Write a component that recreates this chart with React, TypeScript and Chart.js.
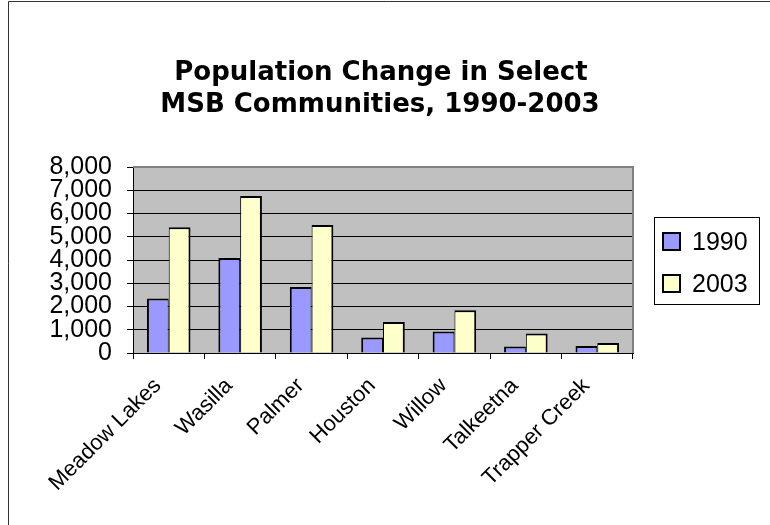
import React, { useEffect, useRef } from "react";
import { Chart, registerables } from "chart.js";

Chart.register(...registerables);

const communities = [
  "Meadow Lakes",
  "Wasilla",
  "Palmer",
  "Houston",
  "Willow",
  "Talkeetna",
  "Trapper Creek",
];
const pop1990 = [2340, 4085, 2840, 670, 925, 280, 300];
const pop2003 = [5410, 6755, 5510, 1330, 1840, 840, 430];
const seriesNames = ["1990", "2003"];
const seriesColors = ["#9999FF", "#FFFFCC"];
const yTicks = [0, 1000, 2000, 3000, 4000, 5000, 6000, 7000, 8000];
const titleLines = ["Population Change in Select", "MSB Communities, 1990-2003"];

const W = 770;
const H = 525;
const FONT = '"Liberation Sans", Arial, sans-serif';
const TITLE_FONT = '"DejaVu Sans", Verdana, sans-serif';

// White page, outer chart frame and the grey plot background
const backdropPlugin = {
  id: "backdrop",
  beforeDraw(chart: any) {
    const { ctx, chartArea } = chart;
    ctx.save();
    ctx.fillStyle = "#ffffff";
    ctx.fillRect(0, 0, W, H);
    ctx.strokeStyle = "#333333";
    ctx.lineWidth = 1;
    ctx.beginPath();
    ctx.moveTo(8.5, H);
    ctx.lineTo(8.5, 1.5);
    ctx.lineTo(W, 1.5);
    ctx.stroke();
    ctx.fillStyle = "#C0C0C0";
    ctx.fillRect(
      chartArea.left,
      chartArea.top,
      chartArea.right - chartArea.left,
      chartArea.bottom - chartArea.top
    );
    ctx.restore();
  },
  afterDraw(chart: any) {
    const { ctx, chartArea } = chart;
    ctx.save();
    ctx.strokeStyle = "#808080";
    ctx.lineWidth = 2;
    ctx.beginPath();
    ctx.moveTo(chartArea.left, chartArea.top);
    ctx.lineTo(chartArea.right, chartArea.top);
    ctx.lineTo(chartArea.right, chartArea.bottom);
    ctx.stroke();
    ctx.restore();
  },
};

// Two-line bold heading above the plot
const headingPlugin = {
  id: "heading",
  afterDraw(chart: any) {
    const { ctx } = chart;
    ctx.save();
    ctx.fillStyle = "#000000";
    ctx.font = `bold 26px ${TITLE_FONT}`;
    ctx.textAlign = "center";
    ctx.textBaseline = "alphabetic";
    ctx.fillText(titleLines[0], 381, 80);
    ctx.fillText(titleLines[1], 380, 112);
    ctx.restore();
  },
};

// Boxed legend to the right of the plot
const boxLegendPlugin = {
  id: "boxLegend",
  afterDraw(chart: any) {
    const { ctx } = chart;
    const x0 = 654.5;
    const y0 = 217.5;
    const bw = 105;
    const bh = 87;
    ctx.save();
    ctx.fillStyle = "#ffffff";
    ctx.fillRect(x0, y0, bw, bh);
    ctx.strokeStyle = "#000000";
    ctx.lineWidth = 1;
    ctx.strokeRect(x0, y0, bw, bh);
    ctx.font = `25px ${FONT}`;
    ctx.textBaseline = "middle";
    ctx.textAlign = "left";
    chart.data.datasets.forEach((ds: any, i: number) => {
      const cy = 242 + i * 42;
      ctx.fillStyle = ds.backgroundColor;
      ctx.fillRect(663, cy - 9, 17, 17);
      ctx.strokeStyle = "#000000";
      ctx.lineWidth = 2;
      ctx.strokeRect(663, cy - 9, 17, 17);
      ctx.fillStyle = "#000000";
      ctx.fillText(ds.label, 692, cy + 1);
    });
    ctx.restore();
  },
};

export default function App() {
  const canvasRef = useRef<HTMLCanvasElement | null>(null);

  useEffect(() => {
    const canvas = canvasRef.current;
    if (!canvas) return;
    const chart = new Chart(canvas, {
      type: "bar",
      data: {
        labels: communities,
        datasets: [
          {
            label: seriesNames[0],
            data: pop1990,
            backgroundColor: seriesColors[0],
            borderColor: "#000000",
            borderWidth: { top: 2, left: 2, right: 1, bottom: 0 },
            categoryPercentage: 0.61,
            barPercentage: 1.0,
          },
          {
            label: seriesNames[1],
            data: pop2003,
            backgroundColor: seriesColors[1],
            borderColor: "#000000",
            borderWidth: { top: 2, left: 1, right: 2, bottom: 0 },
            categoryPercentage: 0.61,
            barPercentage: 1.0,
          },
        ],
      },
      options: {
        responsive: false,
        devicePixelRatio: 1,
        animation: false,
        layout: { padding: { top: 167, right: 137, left: 0, bottom: 0 } },
        plugins: {
          legend: { display: false },
          title: { display: false },
          tooltip: { enabled: false },
        },
        scales: {
          x: {
            afterFit: (s: any) => {
              s.height = H - 353;
            },
            ticks: {
              autoSkip: false,
              minRotation: 45,
              maxRotation: 45,
              padding: 14,
              labelOffset: -11,
              color: "#000000",
              font: { family: FONT, size: 22 },
            },
            grid: {
              drawOnChartArea: false,
              drawTicks: true,
              tickLength: 6,
              color: "#000000",
              offset: true,
            },
            border: { color: "#000000", width: 1 },
          },
          y: {
            min: 0,
            max: 8000,
            afterFit: (s: any) => {
              s.width = 133;
            },
            afterBuildTicks: (s: any) => {
              s.ticks = yTicks.map((v) => ({ value: v }));
            },
            ticks: {
              autoSkip: false,
              padding: 15,
              color: "#000000",
              font: { family: FONT, size: 25 },
              callback: (v: any) => Number(v).toLocaleString("en-US"),
            },
            grid: {
              color: "#000000",
              lineWidth: 1,
              tickLength: 6,
              drawTicks: true,
            },
            border: { color: "#000000", width: 1 },
          },
        },
      },
      plugins: [backdropPlugin, headingPlugin, boxLegendPlugin],
    });
    return () => chart.destroy();
  }, []);

  return (
    <div style={{ position: "fixed", left: 0, top: 0, width: W, height: H, background: "#fff" }}>
      <canvas ref={canvasRef} width={W} height={H} style={{ display: "block" }} />
    </div>
  );
}
